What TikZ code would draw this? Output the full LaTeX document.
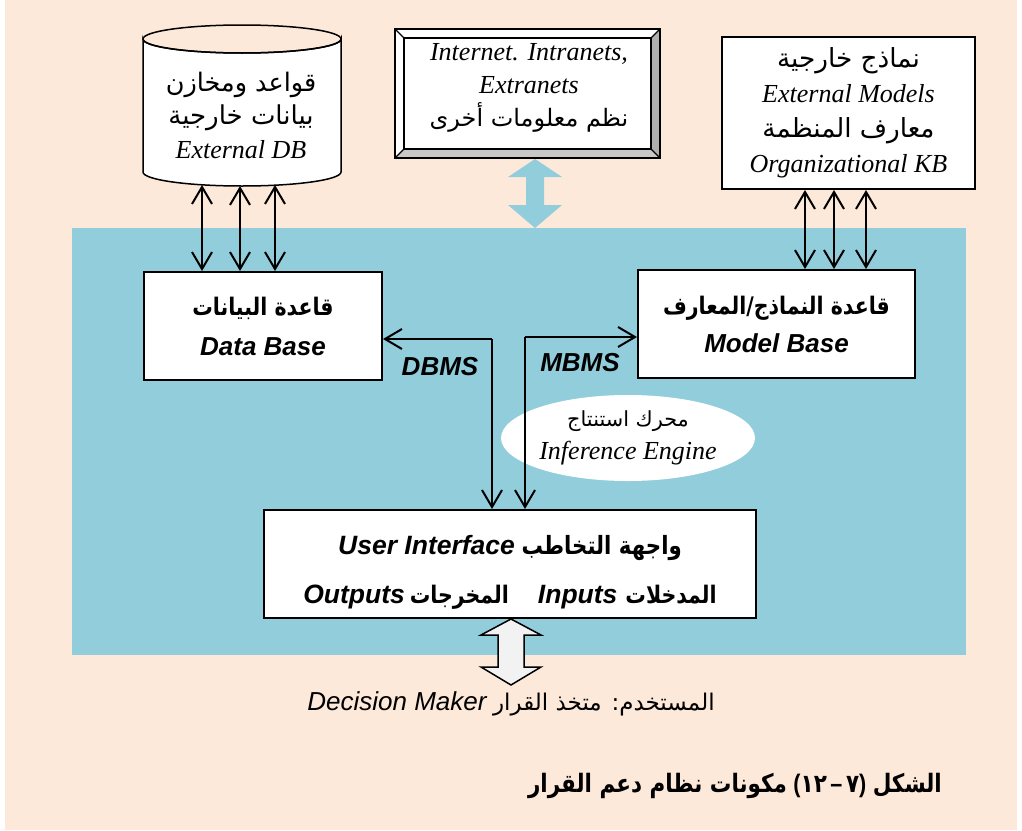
\documentclass[tikz,border=0pt]{standalone}
\usepackage{fontspec}
\usepackage{graphicx}
\setmainfont{Liberation Serif}
\newfontfamily\sansf{Liberation Sans}
\newfontfamily\arab[Script=Arabic]{DejaVu Sans}
\TeXXeTstate=1
\usetikzlibrary{arrows.meta,shapes.geometric}
\definecolor{peach}{RGB}{253,233,218}
\definecolor{panel}{RGB}{146,205,220}
\definecolor{arrowfill}{RGB}{242,242,242}
\definecolor{bevelA}{RGB}{200,200,200}
\definecolor{bevelB}{RGB}{175,175,175}
\newcommand\artxt[2][22]{{\arab\fontsize{#1}{33}\selectfont\beginR #2\endR}}
\newcommand\arbold[2][21]{\scalebox{1}[1.18]{\arab\bfseries\fontsize{#1}{33}\selectfont\beginR #2\endR}}
\newcommand\enit[1]{{\itshape #1}}
\newcommand\ensb[1]{{\sansf\bfseries\itshape #1}}
\tikzset{
  txt/.style={align=center, inner sep=0pt, font=\fontsize{26}{33}\selectfont},
  box/.style={draw, line width=2pt, fill=white, align=center, inner sep=0pt, font=\fontsize{26}{33}\selectfont},
  conn/.style={line width=2pt, -{Straight Barb[length=17pt,width=20pt]}},
  dconn/.style={line width=2pt, {Straight Barb[length=17pt,width=20pt]}-{Straight Barb[length=17pt,width=20pt]}},
}
\begin{document}
\begin{tikzpicture}[x=1pt,y=-1pt]
\useasboundingbox (0,0) rectangle (1022,830);
\fill[peach] (5,0) rectangle (1017,830);
\fill[panel] (72,228) rectangle (966,655);

% external DB cylinder
\path[draw, line width=1.5pt, fill=white] (143,39) -- (143,172) arc[start angle=180, end angle=0, x radius=99, y radius=14] -- (341,39) arc[start angle=0, end angle=180, x radius=99, y radius=14] -- cycle;
\draw[line width=1.5pt] (242,39) ellipse [x radius=99, y radius=14];
\node[txt] (extdb) at (241,115) {\artxt[25.5]{قواعد ومخازن}\\ \artxt[26]{بيانات خارجية}\\[1pt] \enit{External DB}};

% bevel box
\fill[white] (395,29) rectangle (660,158);
\fill[bevelA] (395,158) -- (660,158) -- (651,149) -- (404,149) -- cycle;
\fill[bevelB] (660,29) -- (660,158) -- (651,149) -- (651,38) -- cycle;
\draw[line width=2pt] (395,29) rectangle (660,158);
\draw[line width=1.5pt] (404,38) rectangle (651,149);
\draw[line width=1.2pt] (395,29) -- (404,38) (660,29) -- (651,38) (395,158) -- (404,149) (660,158) -- (651,149);
\node[txt] (net) at (529,88) {\enit{Internet. Intranets,}\\ \enit{Extranets}\\ \artxt[24]{نظم معلومات أخرى}};

% blue double arrow
\fill[panel] (535,159) -- (562,177) -- (544,177) -- (544,205) -- (562,205) -- (535,228) -- (508,205) -- (526,205) -- (526,177) -- (508,177) -- cycle;

% external models box
\node[box, minimum width=253pt, minimum height=152pt, font=\fontsize{26}{35}\selectfont] (extm) at (848.5,113) {\artxt[26.3]{نماذج خارجية}\\ \enit{External Models}\\ \artxt[26.3]{معارف\hspace{8pt}المنظمة}\\ \enit{Organizational KB}};

% data base and model base
\node[box, minimum width=238pt, minimum height=108pt] (db) at (263,326) {\arbold[20.5]{قاعدة البيانات}\\[7pt] \ensb{Data Base}};
\node[box, minimum width=277pt, minimum height=108pt] (mb) at (776.5,324) {\arbold[20.5]{قاعدة النماذج/المعارف}\\[5pt] \ensb{Model Base}};

% inference engine
\node[ellipse, fill=white, minimum width=254pt, minimum height=86pt, inner sep=0pt, align=center, font=\fontsize{26}{33}\selectfont] (ie) at (628,438) {\artxt[20.8]{محرك استنتاج}\\ \enit{Inference Engine}};

% user interface
\node[box, minimum width=492pt, minimum height=108pt, font=\fontsize{26.5}{33}\selectfont] (ui) at (510,564) {\rule{0pt}{36pt}\ensb{User Interface} \arbold[21.3]{واجهة التخاطب}\\[16pt] \ensb{Outputs}\hspace{5pt}\arbold[20.5]{المخرجات}\hspace{29pt}\ensb{Inputs}\hspace{8pt}\arbold[20.5]{المدخلات}};

% cylinder <-> data base
\coordinate (l1) at (202,185);
\coordinate (l2) at (240,186);
\coordinate (l3) at (275,185);
\draw[dconn] (l1) -- (db.north -| l1);
\draw[dconn] (l2) -- (db.north -| l2);
\draw[dconn] (l3) -- (db.north -| l3);

% external models <-> model base
\coordinate (r1) at (805,189);
\coordinate (r2) at (834,189);
\coordinate (r3) at (866,189);
\draw[dconn] (extm.south -| r1) -- (mb.north -| r1);
\draw[dconn] (extm.south -| r2) -- (mb.north -| r2);
\draw[dconn] (extm.south -| r3) -- (mb.north -| r3);

% DBMS / MBMS
\coordinate (dbc) at (492,339);
\coordinate (mbc) at (525,337);
\draw[conn] (dbc) -- (db.east |- dbc);
\draw[conn] (dbc) -- (ui.north -| dbc);
\draw[conn] (mbc) -- (mb.west |- mbc);
\draw[conn] (mbc) -- (ui.north -| mbc);
\node[txt] (dbmsl) at (440,367) {\ensb{DBMS}};
\node[txt] (mbmsl) at (580,363) {\ensb{MBMS}};

% decision maker arrow
\draw[line width=1.5pt, fill=arrowfill] (511,619) -- (541,635) -- (524,635) -- (524,667) -- (541,667) -- (511,685) -- (481,667) -- (498,667) -- (498,635) -- (481,635) -- cycle;
\node[txt] (dm) at (511,704) {{\sansf\itshape Decision Maker} \artxt[23]{المستخدم: متخذ القرار}};

% caption
\node[txt, anchor=east] (cap) at (942,786) {\arbold[21.5]{مكونات نظام دعم القرار} \scalebox{1}[1.18]{\fontsize{21.5}{33}\selectfont{\sansf\bfseries(}{\arab\bfseries ١٢}{\sansf\bfseries\,–\,}{\arab\bfseries ٧}{\sansf\bfseries)}} \arbold[21.5]{الشكل}};
\end{tikzpicture}
\end{document}
